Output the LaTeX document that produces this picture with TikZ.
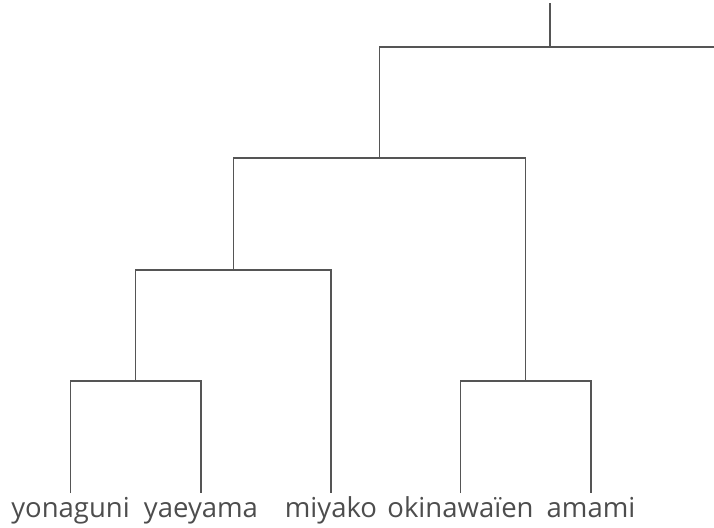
\documentclass[tikz,border=0pt]{standalone}
\usepackage{fontspec}
\setmainfont{Open Sans}
\definecolor{linegray}{HTML}{555555}
\definecolor{textgray}{HTML}{4D4D4D}
\tikzset{
  branch/.style={draw=linegray, line width=1.1pt},
  leaflabel/.style={anchor=base, inner sep=0pt, text=textgray, font=\fontsize{27.5}{30}\selectfont}
}
\begin{document}
\begin{tikzpicture}[x=1pt,y=-1pt]
\useasboundingbox (0,0) rectangle (714,527);
\clip (0,0) rectangle (714,527);
% leaf ends
\coordinate (a) at (70.5,493);
\coordinate (b) at (201,493);
\coordinate (c) at (331,493);
\coordinate (d) at (460.5,493);
\coordinate (e) at (591,493);
% internal joins
\coordinate (p1) at (135.75,381);
\coordinate (p2) at (233.4,270);
\coordinate (p3) at (525.75,381);
\coordinate (p4) at (379.6,158);
\coordinate (p5) at (550,47);
\coordinate (r) at (720.4,60);
\coordinate (top) at (550,3);
% labels
\node[leaflabel] (la) at (70.5,517) {yonaguni};
\node[leaflabel] (lb) at (201,517) {yaeyama};
\node[leaflabel] (lc) at (331,517) {miyako};
\node[leaflabel] (ld) at (460.5,517) {okinawaïen};
\node[leaflabel] (le) at (591,517) {amami};
% branches
\draw[branch] (a) |- (p1) -| (b);
\draw[branch] (d) |- (p3) -| (e);
\draw[branch] (p1) |- (p2) -| (c);
\draw[branch] (p2) |- (p4) -| (p3);
\draw[branch] (p4) |- (p5) -| (r);
\draw[branch] (p5) -- (top);
\end{tikzpicture}
\end{document}
